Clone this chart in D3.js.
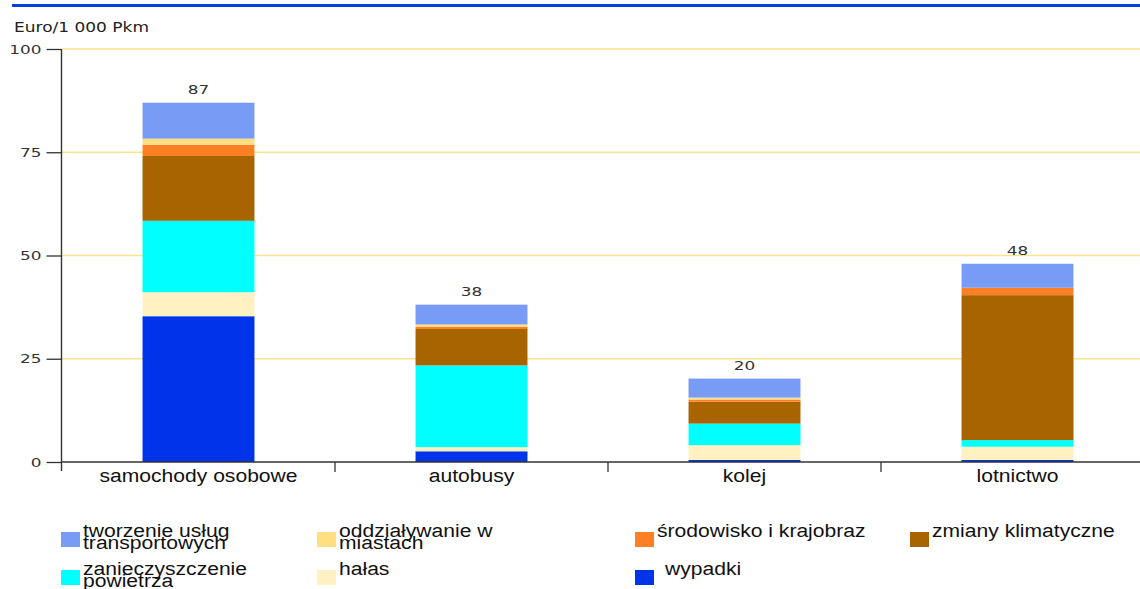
<!DOCTYPE html>
<html>
<head>
<meta charset="utf-8">
<script src="https://cdn.jsdelivr.net/npm/d3@7"></script>
<style>
  body { margin: 0; background: #fff; }
  svg { display: block; }
</style>
</head>
<body>
<svg id="chart" width="1140" height="589"></svg>
<script>
// External costs of transport, Euro per 1 000 passenger-km
const categories = ["samochody osobowe", "autobusy", "kolej", "lotnictwo"];
const totals = [87, 38, 20, 48];

// Components, stacked from the bottom up
const wypadki    = [35.3, 2.6, 0.5, 0.5];
const halas      = [5.8, 1.0, 3.6, 3.2];
const powietrze  = [17.3, 19.8, 5.2, 1.6];
const klimat     = [15.7, 8.8, 5.3, 35.1];
const srodowisko = [2.7, 0.5, 0.5, 1.8];
const miasta     = [1.5, 0.6, 0.5, 0.0];
const uslugi     = [8.7, 4.8, 4.6, 5.8];

const yTicks = [0, 25, 50, 75, 100];
const unitLabel = "Euro/1 000 Pkm";

const seriesKeys = ["wypadki", "halas", "powietrze", "klimat", "srodowisko", "miasta", "uslugi"];
const seriesValues = [wypadki, halas, powietrze, klimat, srodowisko, miasta, uslugi];
const seriesColors = {
  wypadki: "#0034ea",
  halas: "#fff1c2",
  powietrze: "#00ffff",
  klimat: "#a86400",
  srodowisko: "#ff7f24",
  miasta: "#ffdf80",
  uslugi: "#789bf6"
};
const legendKeys = ["uslugi", "miasta", "srodowisko", "klimat", "powietrze", "halas", "wypadki"];
const legendLabels = [
  ["tworzenie usług", "transportowych"],
  ["oddziaływanie w", "miastach"],
  ["środowisko i krajobraz"],
  ["zmiany klimatyczne"],
  ["zanieczyszczenie", "powietrza"],
  ["hałas"],
  ["wypadki"]
];

const table = categories.map((c, i) => {
  const row = { category: c };
  seriesKeys.forEach((k, j) => { row[k] = seriesValues[j][i]; });
  return row;
});

const svg = d3.select("#chart");
const numFont = "'DejaVu Sans', Verdana, sans-serif";
const textFont = "'Liberation Sans', Arial, sans-serif";

const x = d3.scaleBand()
  .domain(categories)
  .range([62, 1154])
  .paddingInner(0.59)
  .paddingOuter(0.295);

const y = d3.scaleLinear().domain([0, 100]).range([462, 49]);

// top rule
svg.append("line")
  .attr("x1", 12).attr("x2", 1140)
  .attr("y1", 5.5).attr("y2", 5.5)
  .attr("stroke", "#0a3fd9").attr("stroke-width", 3);

// unit label
svg.append("text")
  .attr("transform", "translate(14,32) scale(1.26,1)")
  .attr("font-family", numFont).attr("font-size", 13.5)
  .attr("fill", "#222")
  .text(unitLabel);

// gridlines
svg.append("g").selectAll("line")
  .data(yTicks.filter(d => d > 0))
  .join("line")
  .attr("x1", 62).attr("x2", 1140)
  .attr("y1", d => y(d)).attr("y2", d => y(d))
  .attr("stroke", "#fde38e").attr("stroke-width", 1.3);

// stacked bars
const stack = d3.stack().keys(seriesKeys)(table);
svg.append("g").selectAll("g")
  .data(stack)
  .join("g")
  .attr("fill", d => seriesColors[d.key])
  .selectAll("rect")
  .data(d => d)
  .join("rect")
  .attr("x", d => x(d.data.category))
  .attr("width", x.bandwidth())
  .attr("y", d => y(d[1]))
  .attr("height", d => y(d[0]) - y(d[1]));

// totals above bars
svg.append("g").selectAll("text")
  .data(categories)
  .join("text")
  .attr("transform", (c, i) => `translate(${x(c) + x.bandwidth() / 2},${y(totals[i]) - 9}) scale(1.35,1)`)
  .attr("text-anchor", "middle")
  .attr("font-family", numFont).attr("font-size", 12.5)
  .attr("fill", "#333")
  .text((c, i) => totals[i]);

// y axis
const yAxis = svg.append("g")
  .attr("transform", "translate(61.5,0)")
  .call(d3.axisLeft(y).tickValues(yTicks).tickSize(15).tickPadding(5));
yAxis.select(".domain").remove();
yAxis.selectAll(".tick line").attr("stroke", "#333").attr("stroke-width", 1.3);
yAxis.selectAll(".tick text")
  .attr("x", 0)
  .attr("transform", "translate(-20,0) scale(1.35,1)")
  .attr("font-family", numFont).attr("font-size", 12.5)
  .attr("fill", "#333");
yAxis.append("line")
  .attr("x1", 0).attr("x2", 0)
  .attr("y1", y(100)).attr("y2", y(0) + 9)
  .attr("stroke", "#333").attr("stroke-width", 1.4);

// x axis
const xAxis = svg.append("g")
  .attr("transform", `translate(0,${y(0)})`)
  .call(d3.axisBottom(x).tickSize(0).tickPadding(0));
xAxis.select(".domain").remove();
xAxis.selectAll(".tick text")
  .attr("y", 20)
  .attr("dy", 0)
  .attr("transform", "scale(1.11,1)")
  .attr("font-family", textFont).attr("font-size", 19)
  .attr("fill", "#111");
xAxis.append("line")
  .attr("x1", 62).attr("x2", 1140)
  .attr("y1", 0).attr("y2", 0)
  .attr("stroke", "#333").attr("stroke-width", 1.4);
xAxis.selectAll(".boundary")
  .data(categories.slice(1))
  .join("line")
  .attr("class", "boundary")
  .attr("x1", c => x(c) - x.step() * x.paddingInner() / 2)
  .attr("x2", c => x(c) - x.step() * x.paddingInner() / 2)
  .attr("y1", 0).attr("y2", 10)
  .attr("stroke", "#333").attr("stroke-width", 1.3);

// legend
const legendCols = [61, 317, 635, 910];
const legendRows = [532, 570];
const legend = svg.append("g").selectAll("g")
  .data(legendKeys)
  .join("g")
  .attr("transform", (k, i) => {
    const col = i < 4 ? i : i - 4;
    const row = i < 4 ? 0 : 1;
    return `translate(${legendCols[col]},${legendRows[row]})`;
  });
legend.append("rect")
  .attr("width", 19).attr("height", 15)
  .attr("fill", k => seriesColors[k]);
legend.append("text")
  .attr("transform", k => `translate(${k === "wypadki" ? 30 : 22},4.5) scale(1.11,1)`)
  .attr("font-family", textFont).attr("font-size", 19)
  .attr("fill", "#111")
  .each(function (k, i) {
    d3.select(this).selectAll("tspan")
      .data(legendLabels[i])
      .join("tspan")
      .attr("x", 0)
      .attr("dy", (d, j) => j === 0 ? 0 : 12.6)
      .text(d => d);
  });
</script>
</body>
</html>
